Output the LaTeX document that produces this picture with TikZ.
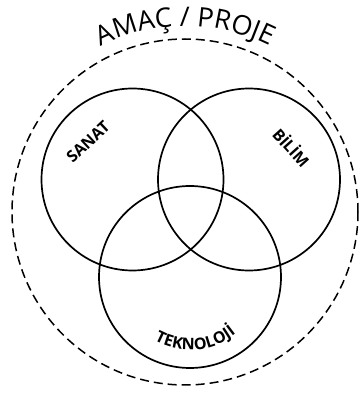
\documentclass[tikz,border=0pt]{standalone}
\usepackage{fontspec}
\setmainfont{Open Sans}
\usetikzlibrary{decorations.text}
\newcommand\titlefont{\fontsize{27}{27}\selectfont}
\newcommand\tagfont{\fontsize{16}{16}\selectfont\bfseries}
\tikzstyle{venn} = [circle,draw,line width=1.7pt,minimum size=182pt,inner sep=0pt]
\tikzstyle{frame} = [circle,draw,line width=1.5pt,dash pattern=on 9pt off 5pt,minimum size=346pt,inner sep=0pt]
\tikzstyle{tag} = [inner sep=0.75pt,font=\tagfont]

\begin{document}
\begin{tikzpicture}[x=1pt,y=1pt]
\useasboundingbox (0,0) rectangle (359,394);

%Shape: Circle (dashed frame)
\node[frame] (proje) at (185,182) {};
%Shape: Circle
\node[venn] (sanat) at (132.5,214.5) {};
%Shape: Circle
\node[venn] (bilim) at (249,214.5) {};
%Shape: Circle
\node[venn] (teknoloji) at (190,117) {};

% Text Node
\path[decorate,decoration={text along path,text align=center,text={|\titlefont|AMAÇ / PROJE}}]
  (proje.center) ++(124:186) arc[start angle=124,end angle=56,radius=186];
% Text Node
\node[tag,rotate=43] (sanattag) at (88,252) {SANAT};
% Text Node
\node[tag,rotate=-48] (bilimtag) at (292,247) {BİLİM};
% Text Node
\path[decorate,decoration={text along path,text align=center,text={|\tagfont|TEKNOLOJİ}}]
  (teknoloji.center) ++(-145:73) arc[start angle=-145,end angle=-25,radius=73];

\end{tikzpicture}
\end{document}
